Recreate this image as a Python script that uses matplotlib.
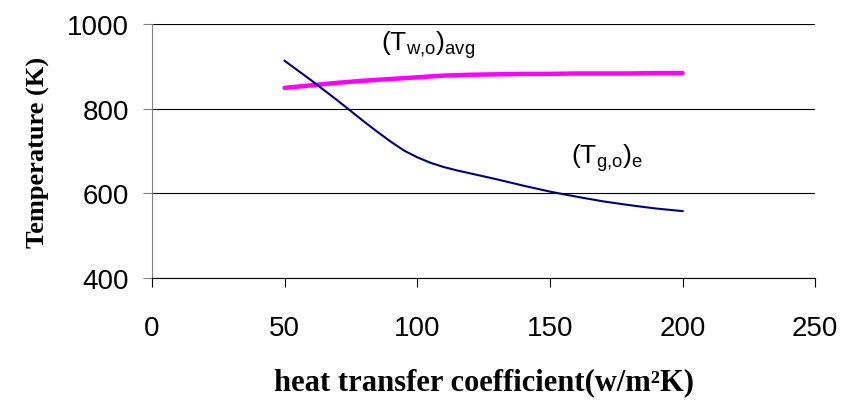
import matplotlib.pyplot as plt

plt.rcParams['mathtext.fontset'] = 'custom'
plt.rcParams['mathtext.rm'] = 'Liberation Sans'
plt.rcParams['mathtext.it'] = 'Liberation Sans'

# heat transfer coefficient (w/m^2K)
h_wall = [50, 60, 70, 80, 90, 100, 110, 120, 130, 140, 150, 160, 170, 180, 190, 200]
h_gas = [50, 55, 60, 65, 70, 75, 80, 85, 90, 95, 100, 105, 110, 115, 120, 125,
         130, 140, 150, 160, 170, 180, 190, 200]
# average outer wall temperature (K)
t_wall = [849, 855, 861, 866, 870, 874, 878, 880, 881, 882, 882, 883, 883, 883, 884, 884]
# gas outlet temperature (K)
t_gas = [913, 890, 867, 843, 819, 794, 769, 745, 722, 701, 685, 672, 662, 654, 647, 640,
         633, 618, 604, 592, 581, 572, 564, 558]

fig = plt.figure(figsize=(8.44, 4.02), dpi=100)
ax = fig.add_axes([0.180, 0.306, 0.786, 0.632])

ax.plot(h_wall, t_wall, color='#ff00ff', lw=3.2, solid_capstyle='round')
ax.plot(h_gas, t_gas, color='#000080', lw=1.5)

ax.text(86.5, 953, r'$(\mathrm{T}_{\mathrm{w{,}o}})_{\mathrm{avg}}$', fontsize=19, va='center')
ax.text(158, 685, r'$(\mathrm{T}_{\mathrm{g{,}o}})_{\mathrm{e}}$', fontsize=19, va='center')

ax.set_xlim(0, 250)
ax.set_ylim(400, 1000)
ax.set_xticks([0, 50, 100, 150, 200, 250])
ax.set_yticks([400, 600, 800, 1000])
ax.grid(axis='y', color='black', lw=0.8)
ax.set_axisbelow(True)

for s in ['top', 'right']:
    ax.spines[s].set_visible(False)
ax.spines['left'].set_color('#808080')
ax.spines['bottom'].set_color('black')
ax.tick_params(axis='both', direction='out', length=6.5, width=0.8, labelsize=20)
ax.tick_params(axis='x', pad=20)
ax.tick_params(axis='y', color='#808080', pad=10)
for lab in ax.get_xticklabels() + ax.get_yticklabels():
    lab.set_family('Liberation Sans')

ax.set_xlabel('heat transfer coefficient(w/m²K)', family='Liberation Serif',
              fontweight='bold', fontsize=22, labelpad=19)
ax.set_ylabel('Temperature (K)', family='Liberation Serif',
              fontweight='bold', fontsize=19, labelpad=12)

fig.savefig('out.png')
